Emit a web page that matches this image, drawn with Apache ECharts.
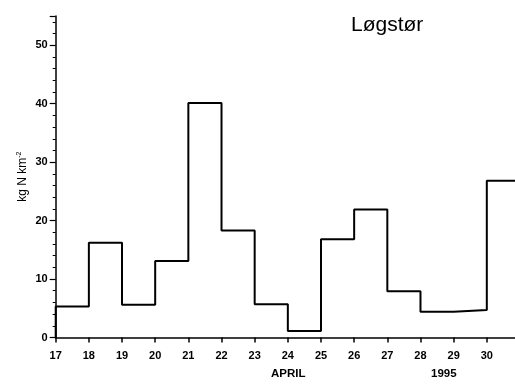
<!DOCTYPE html>
<html>
<head>
<meta charset="utf-8">
<script src="https://cdn.jsdelivr.net/npm/echarts@6/dist/echarts.min.js"></script>
<style>
  html, body { margin: 0; padding: 0; background: #fff; }
  #chart { width: 515px; height: 384px; }
</style>
</head>
<body>
<div id="chart"></div>
<script>
// Daily nitrogen load, Løgstør, April 1995 (kg N km^-2 per day)
const days = [17, 18, 19, 20, 21, 22, 23, 24, 25, 26, 27, 28, 29, 30];
const loads = [5.3, 16.2, 5.6, 13.1, 40.1, 18.3, 5.7, 1.1, 16.8, 21.9, 7.9, 4.4, 4.7, 26.8];
const xEnd = 30.85;
const yTicks = [0, 10, 20, 30, 40, 50];

// Step data: each day's value holds until the next day begins
const stepData = [[days[0], 0]];
days.forEach((d, i) => stepData.push([d, loads[i]]));
stepData.push([xEnd, loads[loads.length - 1]]);

const font = 'Liberation Sans, Arial, sans-serif';
const chart = echarts.init(document.getElementById('chart'));
chart.setOption({
  animation: false,
  backgroundColor: '#fff',
  title: {
    text: 'Løgstør',
    left: 346, top: 10,
    textStyle: { fontFamily: font, fontSize: 21, fontWeight: 'normal', color: '#000' }
  },
  grid: { left: 55.7, top: 16, width: 460, height: 321.5 },
  xAxis: {
    type: 'value', min: 17, max: xEnd, interval: 1,
    axisLine: { lineStyle: { color: '#000', width: 1.5 } },
    axisTick: { inside: false, length: 5, lineStyle: { color: '#000', width: 1.5 } },
    axisLabel: {
      showMaxLabel: false, margin: 13,
      fontFamily: font, fontSize: 11, fontWeight: 'bold', color: '#000'
    },
    splitLine: { show: false }
  },
  yAxis: {
    type: 'value', min: 0, max: 55, interval: 10,
    name: 'kg N km{sup|-2}',
    nameLocation: 'middle', nameGap: 27, nameRotate: 90,
    nameMoveOverlap: false,
    nameTextStyle: {
      fontFamily: font, fontSize: 12, color: '#000',
      rich: { sup: { fontSize: 7, verticalAlign: 'top', padding: [0, 0, 6, 0], fontFamily: font } }
    },
    axisLine: { lineStyle: { color: '#000', width: 1.5 } },
    axisTick: { length: 6, lineStyle: { color: '#000', width: 1.2 } },
    minorTick: { show: true, splitNumber: 5, length: 3, lineStyle: { color: '#000', width: 1 } },
    axisLabel: {
      margin: 8,
      fontFamily: font, fontSize: 11, fontWeight: 'bold', color: '#000',
      formatter: v => (yTicks.includes(v) ? String(v) : '')
    },
    splitLine: { show: false }
  },
  graphic: [
    { type: 'text', left: 271, top: 368, style: { text: 'APRIL', font: 'bold 11.5px ' + font, fill: '#000' } },
    { type: 'text', left: 431, top: 368, style: { text: '1995', font: 'bold 11.5px ' + font, fill: '#000' } }
  ],
  series: [{
    type: 'line', step: 'end', data: stepData,
    symbol: 'none',
    lineStyle: { color: '#000', width: 2 }
  }]
});
</script>
</body>
</html>
